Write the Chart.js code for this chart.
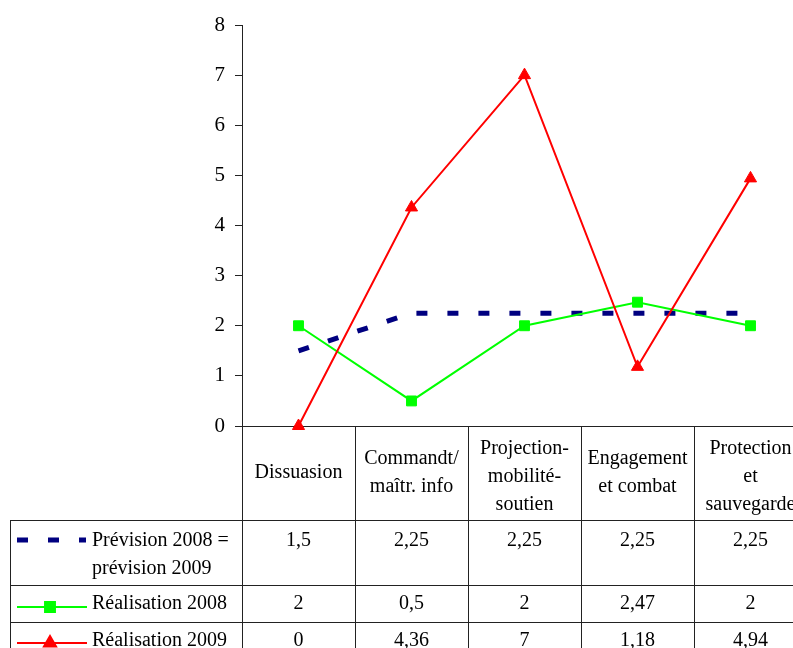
<!DOCTYPE html>
<html>
<head>
<meta charset="utf-8">
<script src="https://cdn.jsdelivr.net/npm/chart.js@4.4.1/dist/chart.umd.min.js"></script>
<style>
  html, body { margin: 0; padding: 0; background: #fff; overflow: hidden; }
  #wrap { width: 793px; height: 648px; overflow: hidden; }
  canvas { display: block; }
</style>
</head>
<body>
<div id="wrap"><canvas id="chart" width="830" height="648"></canvas></div>
<script>
// categories (one header cell each, split in lines as in the table)
const categories = [
  ['Dissuasion'],
  ['Commandt/', 'maîtr. info'],
  ['Projection-', 'mobilité-', 'soutien'],
  ['Engagement', 'et combat'],
  ['Protection', 'et', 'sauvegarde']
];
const seriesNames = [
  ['Prévision 2008 =', 'prévision 2009'],
  ['Réalisation 2008'],
  ['Réalisation 2009']
];
const prevision = [1.5, 2.25, 2.25, 2.25, 2.25];
const realisation2008 = [2, 0.5, 2, 2.47, 2];
const realisation2009 = [0, 4.36, 7, 1.18, 4.94];
const yMin = 0, yMax = 8, yStep = 1;

const FAMILY = '"Liberation Serif", "Times New Roman", serif';
const FONT = '20px ' + FAMILY;
const LINE = '#222';
const NAVY = '#000080', GREEN = '#00ff00', RED = '#ff0000';

const fmt = v => String(v).replace('.', ',');

// draws the data table under the plot (header, legend keys, values)
const tablePlugin = {
  id: 'dataTable',
  afterDraw(chart) {
    const ctx = chart.ctx;
    const xs = chart.scales.x;
    const area = chart.chartArea;
    const half = (xs.getPixelForValue(1) - xs.getPixelForValue(0)) / 2;
    const axisY = Math.round(area.bottom);
    const rowTops = [520, 585, 622];
    const bottom = 660;
    const tableLeft = 10;
    const right = chart.width;

    ctx.save();
    ctx.strokeStyle = LINE;
    ctx.lineWidth = 1;
    ctx.beginPath();
    // column borders
    for (let i = 0; i <= categories.length; i++) {
      const bx = Math.round(i < categories.length ? xs.getPixelForValue(i) - half : xs.getPixelForValue(i - 1) + half) + 0.5;
      ctx.moveTo(bx, axisY);
      ctx.lineTo(bx, bottom);
    }
    ctx.moveTo(tableLeft + 0.5, rowTops[0]);
    ctx.lineTo(tableLeft + 0.5, bottom);
    rowTops.forEach(t => {
      ctx.moveTo(tableLeft, t + 0.5);
      ctx.lineTo(right, t + 0.5);
    });
    ctx.stroke();

    ctx.fillStyle = '#000';
    ctx.font = FONT;
    ctx.textAlign = 'center';
    ctx.textBaseline = 'alphabetic';

    // header
    categories.forEach((lines, i) => {
      const cx = xs.getPixelForValue(i);
      const first = Math.max(axisY + 28, 478 - (lines.length - 1) * 14.5);
      lines.forEach((l, j) => ctx.fillText(l, cx, first + j * 28));
    });

    // values
    const series = [prevision, realisation2008, realisation2009];
    const baselines = [546, 609, 646];
    series.forEach((vals, r) => {
      vals.forEach((v, i) => ctx.fillText(fmt(v), xs.getPixelForValue(i), baselines[r]));
    });

    // legend labels
    ctx.textAlign = 'left';
    seriesNames.forEach((lines, r) => {
      lines.forEach((l, j) => ctx.fillText(l, 92, baselines[r] + j * 28));
    });

    // legend keys
    const keyY = [540, 607, 643];
    ctx.lineCap = 'butt';
    ctx.setLineDash([11, 20]);
    ctx.strokeStyle = NAVY;
    ctx.lineWidth = 5;
    ctx.beginPath();
    ctx.moveTo(17, keyY[0]);
    ctx.lineTo(86, keyY[0]);
    ctx.stroke();
    ctx.setLineDash([]);

    ctx.lineWidth = 2;
    ctx.strokeStyle = GREEN;
    ctx.beginPath();
    ctx.moveTo(17, keyY[1]);
    ctx.lineTo(87, keyY[1]);
    ctx.stroke();
    ctx.fillStyle = GREEN;
    Chart.helpers.drawPoint(ctx, { pointStyle: 'rect', radius: 7, rotation: 0, borderWidth: 1 }, 50, keyY[1]);

    ctx.strokeStyle = RED;
    ctx.beginPath();
    ctx.moveTo(17, keyY[2]);
    ctx.lineTo(87, keyY[2]);
    ctx.stroke();
    ctx.fillStyle = RED;
    Chart.helpers.drawPoint(ctx, { pointStyle: 'triangle', radius: 7, rotation: 0, borderWidth: 1 }, 50, keyY[2]);
    ctx.restore();
  }
};

new Chart(document.getElementById('chart'), {
  type: 'line',
  data: {
    labels: categories.map(c => c.join(' ')),
    datasets: [
      {
        label: seriesNames[0].join(' '),
        data: prevision,
        borderColor: NAVY,
        borderWidth: 5,
        borderDash: [11, 20],
        borderCapStyle: 'butt',
        pointRadius: 0,
        tension: 0,
        clip: false,
        order: 2
      },
      {
        label: seriesNames[1].join(' '),
        data: realisation2008,
        borderColor: GREEN,
        backgroundColor: GREEN,
        borderWidth: 2,
        pointStyle: 'rect',
        pointRadius: 7,
        pointBorderWidth: 1,
        pointBackgroundColor: GREEN,
        pointBorderColor: GREEN,
        tension: 0,
        clip: false,
        order: 1
      },
      {
        label: seriesNames[2].join(' '),
        data: realisation2009,
        borderColor: RED,
        backgroundColor: RED,
        borderWidth: 2,
        pointStyle: 'triangle',
        pointRadius: 7,
        pointBorderWidth: 1,
        pointBackgroundColor: RED,
        pointBorderColor: RED,
        tension: 0,
        clip: false,
        order: 0
      }
    ]
  },
  options: {
    responsive: false,
    animation: false,
    events: [],
    layout: { padding: { left: 0, top: 25, right: 23, bottom: 0 } },
    plugins: { legend: { display: false }, tooltip: { enabled: false } },
    scales: {
      x: {
        offset: true,
        grid: { display: false },
        border: { display: true, color: LINE, width: 1 },
        ticks: { display: false },
        afterFit: s => { s.height = 648 - 426; }
      },
      y: {
        min: yMin,
        max: yMax,
        grid: { drawOnChartArea: false, drawTicks: true, tickLength: 7, color: LINE },
        border: { display: true, color: LINE, width: 1 },
        ticks: {
          stepSize: yStep,
          color: '#000',
          padding: 10,
          font: { family: FAMILY, size: 21 }
        },
        afterFit: s => { s.width = 242; }
      }
    }
  },
  plugins: [tablePlugin]
});
</script>
</body>
</html>
